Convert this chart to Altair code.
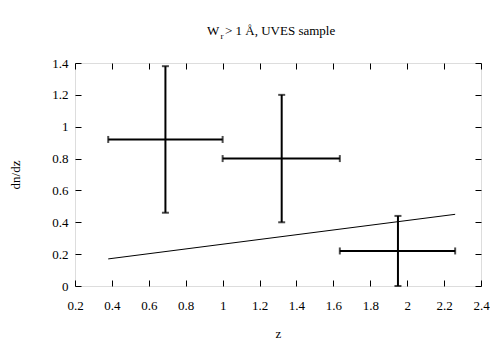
import altair as alt
import pandas as pd

# data points with error bars
z = [0.69, 1.32, 1.95]
z_lo = [0.38, 1.0, 1.635]
z_hi = [1.0, 1.635, 2.26]
dndz = [0.92, 0.80, 0.22]
dndz_lo = [0.46, 0.40, 0.0]
dndz_hi = [1.38, 1.20, 0.44]

# model line
z_line = [0.38, 2.26]
dndz_line = [0.17, 0.45]

x_ticks = [0.2, 0.4, 0.6, 0.8, 1.0, 1.2, 1.4, 1.6, 1.8, 2.0, 2.2, 2.4]
y_ticks = [0, 0.2, 0.4, 0.6, 0.8, 1.0, 1.2, 1.4]

title_main = "W"
title_sub = "r"
title_rest = "> 1 Å, UVES sample"
x_title = "z"
y_title = "dn/dz"

FONT = "Liberation Serif"
W, H = 406, 223
PAD_L, PAD_T = 67, 55

df = pd.DataFrame(dict(z=z, z_lo=z_lo, z_hi=z_hi, dndz=dndz, dndz_lo=dndz_lo, dndz_hi=dndz_hi))
cap_h = pd.DataFrame(dict(z=z_lo + z_hi, dndz=dndz + dndz))
cap_v = pd.DataFrame(dict(z=z + z, dndz=dndz_lo + dndz_hi))
line_df = pd.DataFrame(dict(z=z_line, dndz=dndz_line))

xs = alt.Scale(domain=[0.2, 2.4], nice=False, zero=False)
ys = alt.Scale(domain=[0, 1.4], nice=False, zero=False)

ax_x_main = alt.Axis(orient="bottom", values=x_ticks, format="~g", ticks=False, domain=False,
                     grid=False, labelFlush=False, labelOverlap=False, labelPadding=13,
                     labelFont=FONT, labelFontSize=13, labelColor="black",
                     title=x_title, titleFont=FONT, titleFontSize=13, titleFontWeight="normal",
                     titleColor="black", titleX=W / 2, titleY=51, titleBaseline="alphabetic",
                     titleAlign="center")
ax_y_main = alt.Axis(orient="left", values=y_ticks, format="~g", ticks=False, domain=False,
                     grid=False, labelFlush=False, labelOverlap=False, labelPadding=7,
                     labelFont=FONT, labelFontSize=13, labelColor="black",
                     title=y_title, titleFont=FONT, titleFontSize=13, titleFontWeight="normal",
                     titleColor="black", titleX=-60, titleY=H / 2, titleAngle=-90,
                     titleBaseline="middle", titleAlign="center")


def tick_axis(orient, vals, off):
    return alt.Axis(orient=orient, values=vals, offset=off, labels=False, domain=False,
                    grid=False, ticks=True, tickSize=6, tickColor="black", tickWidth=1,
                    title=None)


vbars = alt.Chart(df).mark_rule(color="black", strokeWidth=2).encode(
    x=alt.X("z:Q", scale=xs, axis=ax_x_main),
    y=alt.Y("dndz_lo:Q", scale=ys, axis=ax_y_main),
    y2="dndz_hi:Q",
)
hbars = alt.Chart(df).mark_rule(color="black", strokeWidth=2).encode(
    x=alt.X("z_lo:Q", scale=xs, axis=tick_axis("top", x_ticks, -H)),
    x2="z_hi:Q",
    y=alt.Y("dndz:Q", scale=ys, axis=tick_axis("right", y_ticks, -W)),
)
caps_h = alt.Chart(cap_h).mark_tick(color="black", orient="vertical", size=7, thickness=2).encode(
    x=alt.X("z:Q", scale=xs, axis=tick_axis("bottom", x_ticks, -H)),
    y=alt.Y("dndz:Q", scale=ys, axis=tick_axis("left", y_ticks, -W)),
)
caps_v = alt.Chart(cap_v).mark_tick(color="black", orient="horizontal", size=7, thickness=2).encode(
    x=alt.X("z:Q", scale=xs, axis=None),
    y=alt.Y("dndz:Q", scale=ys, axis=None),
)
line = alt.Chart(line_df).mark_line(color="black", strokeWidth=1).encode(
    x=alt.X("z:Q", scale=xs, axis=None),
    y=alt.Y("dndz:Q", scale=ys, axis=None),
)

t1 = alt.Chart(pd.DataFrame({"t": [title_main]})).mark_text(
    font=FONT, fontSize=13, align="left", baseline="alphabetic", color="black"
).encode(text="t:N", x=alt.value(132), y=alt.value(-28))
t2 = alt.Chart(pd.DataFrame({"t": [title_sub]})).mark_text(
    font=FONT, fontSize=9, align="left", baseline="alphabetic", color="black"
).encode(text="t:N", x=alt.value(145.5), y=alt.value(-24))
t3 = alt.Chart(pd.DataFrame({"t": [title_rest]})).mark_text(
    font=FONT, fontSize=13, align="left", baseline="alphabetic", color="black"
).encode(text="t:N", x=alt.value(150), y=alt.value(-28))

chart = alt.layer(vbars, hbars, caps_h, caps_v, line, t1, t2, t3).resolve_axis(
    x="independent", y="independent"
).properties(
    width=W, height=H,
    autosize=alt.AutoSizeParams(type="none"),
    padding={"left": PAD_L, "top": PAD_T, "right": 482 - PAD_L - W, "bottom": 334 - PAD_T - H},
).configure_view(stroke="black", strokeWidth=1).configure(background="white")

chart.save("out.html", embed_options={"renderer": "svg", "actions": False})
